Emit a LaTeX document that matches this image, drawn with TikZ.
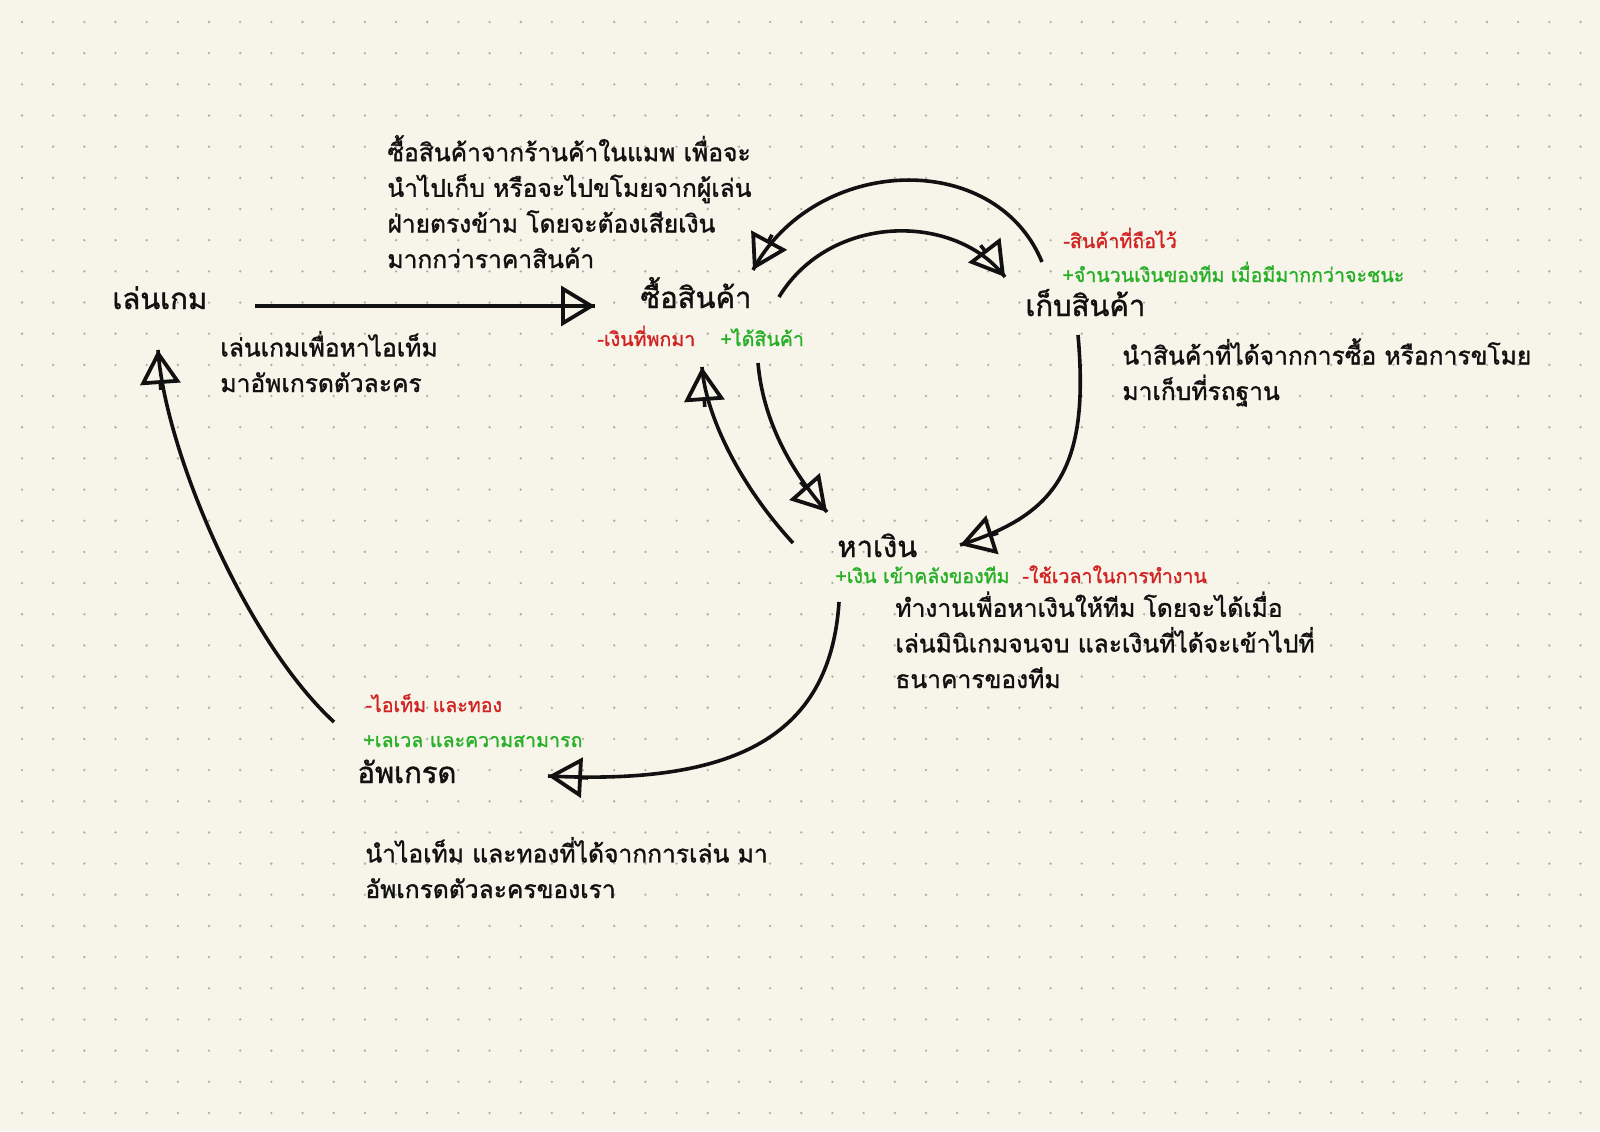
\documentclass[tikz,border=0pt]{standalone}
\usepackage{fontspec}
\newfontfamily\thai[Script=Thai,FakeBold=1.3]{Loma}
\usetikzlibrary{arrows.meta,calc}
\definecolor{bg}{RGB}{247,245,234}
\definecolor{dotc}{RGB}{175,175,168}
\definecolor{cred}{RGB}{210,35,35}
\definecolor{cgreen}{RGB}{40,175,40}
\definecolor{ink}{RGB}{17,17,17}
\begin{document}
\begin{tikzpicture}[x=0.5pt,y=-0.5pt,
  title/.style={font=\thai\fontsize{14.6}{18}\selectfont, text=ink, anchor=base west, inner sep=0pt},
  body/.style={font=\thai\fontsize{12.3}{17.8}\selectfont, text=ink, anchor=base west, inner sep=0pt, align=left},
  minuslbl/.style={font=\thai\fontsize{9.8}{12}\selectfont, text=cred, anchor=base west, inner sep=0pt},
  pluslbl/.style={font=\thai\fontsize{9.8}{12}\selectfont, text=cgreen, anchor=base west, inner sep=0pt},
  link/.style={draw=ink, line width=1.8pt},
  tip/.style={draw=ink, line width=1.8pt, -{Triangle[open, length=17pt, width=20pt, line width=1.9pt]}}
]
\useasboundingbox (0,0) rectangle (1600,1131);
\fill[bg] (0,0) rectangle (1600,1131);
\foreach \i in {0,...,50}{
  \foreach \j in {0,...,35}{
    \fill[dotc] (22+31.17*\i, 22+31.17*\j) circle[radius=1.3];
  }
}

% main nodes
\node[title] (play) at (112,309) {เล่นเกม};
\node[title] (buy) at (640,308) {ซื้อสินค้า};
\node[title] (store) at (1025,316) {เก็บสินค้า};
\node[title] (earn) at (837,557) {หาเงิน};
\node[title] (upg) at (357,783) {อัพเกรด};

% descriptions (base = baseline of last line)
\node[body] (dbuy) at (387,268) {ซื้อสินค้าจากร้านค้าในแมพ เพื่อจะ\\นำไปเก็บ หรือจะไปขโมยจากผู้เล่น\\ฝ่ายตรงข้าม โดยจะต้องเสียเงิน\\มากกว่าราคาสินค้า};
\node[body] (dplay) at (220,392) {เล่นเกมเพื่อหาไอเท็ม\\มาอัพเกรดตัวละคร};
\node[body] (dstore) at (1122,400) {นำสินค้าที่ได้จากการซื้อ หรือการขโมย\\มาเก็บที่รถฐาน};
\node[body] (dearn) at (895,688) {ทำงานเพื่อหาเงินให้ทีม โดยจะได้เมื่อ\\เล่นมินิเกมจนจบ และเงินที่ได้จะเข้าไปที่\\ธนาคารของทีม};
\node[body] (dupg) at (365,898) {นำไอเท็ม และทองที่ได้จากการเล่น มา\\อัพเกรดตัวละครของเรา};

% effect labels
\node[minuslbl] (nbuy) at (597,346) {-เงินที่พกมา};
\node[pluslbl] (pbuy) at (720,346) {+ได้สินค้า};
\node[minuslbl] (nstore) at (1063,248) {-สินค้าที่ถือไว้};
\node[pluslbl] (pstore) at (1062,282) {+จำนวนเงินของทีม เมื่อมีมากกว่าจะชนะ};
\node[pluslbl] (pearn) at (835,583) {+เงิน เข้าคลังของทีม};
\node[minuslbl] (nearn) at (1022,583) {-ใช้เวลาในการทำงาน};
\node[minuslbl] (nupg) at (365,712) {-ไอเท็ม และทอง};
\node[pluslbl] (pupg) at (363,747) {+เลเวล และความสามารถ};

% connector ends and control points
\coordinate (a1s) at (255,306); \coordinate (a1e) at (595,306);
\coordinate (a2s) at (779,297); \coordinate (a2e) at (1005,277);
\coordinate (a2p) at (830,213); \coordinate (a2q) at (955,212);
\coordinate (a3s) at (1042,262); \coordinate (a3e) at (753,270);
\coordinate (a3p) at (995,148); \coordinate (a3q) at (815,155);
\coordinate (a4s) at (758,363); \coordinate (a4e) at (827,512);
\coordinate (a4p) at (763,420); \coordinate (a4q) at (790,470);
\coordinate (a5s) at (793,543); \coordinate (a5e) at (702,367);
\coordinate (a5p) at (735,480); \coordinate (a5q) at (705,410);
\coordinate (a6s) at (1078,335); \coordinate (a6e) at (960,545);
\coordinate (a6p) at (1090,470); \coordinate (a6q) at (1055,515);
\coordinate (a7s) at (839,602); \coordinate (a7e) at (548,776);
\coordinate (a7p) at (830,740); \coordinate (a7q) at (730,785);
\coordinate (a8s) at (334,722); \coordinate (a8e) at (158,350);
\coordinate (a8p) at (245,640); \coordinate (a8q) at (165,450);

% connectors
\draw[link] (a1s) -- (a1e);
\draw[tip] ($(a1e)!20pt!(a1s)$) -- (a1e);
\draw[link] (a2s) .. controls (a2p) and (a2q) .. (a2e);
\draw[tip] ($(a2e)!20pt!(a2q)$) -- (a2e);
\draw[link] (a3s) .. controls (a3p) and (a3q) .. (a3e);
\draw[tip] ($(a3e)!20pt!(a3q)$) -- (a3e);
\draw[link] (a4s) .. controls (a4p) and (a4q) .. (a4e);
\draw[tip] ($(a4e)!20pt!(a4q)$) -- (a4e);
\draw[link] (a5s) .. controls (a5p) and (a5q) .. (a5e);
\draw[tip] ($(a5e)!20pt!(a5q)$) -- (a5e);
\draw[link] (a6s) .. controls (a6p) and (a6q) .. (a6e);
\draw[tip] ($(a6e)!20pt!(a6q)$) -- (a6e);
\draw[link] (a7s) .. controls (a7p) and (a7q) .. (a7e);
\draw[tip] ($(a7e)!20pt!(a7q)$) -- (a7e);
\draw[link] (a8s) .. controls (a8p) and (a8q) .. (a8e);
\draw[tip] ($(a8e)!20pt!(a8q)$) -- (a8e);
\end{tikzpicture}
\end{document}
